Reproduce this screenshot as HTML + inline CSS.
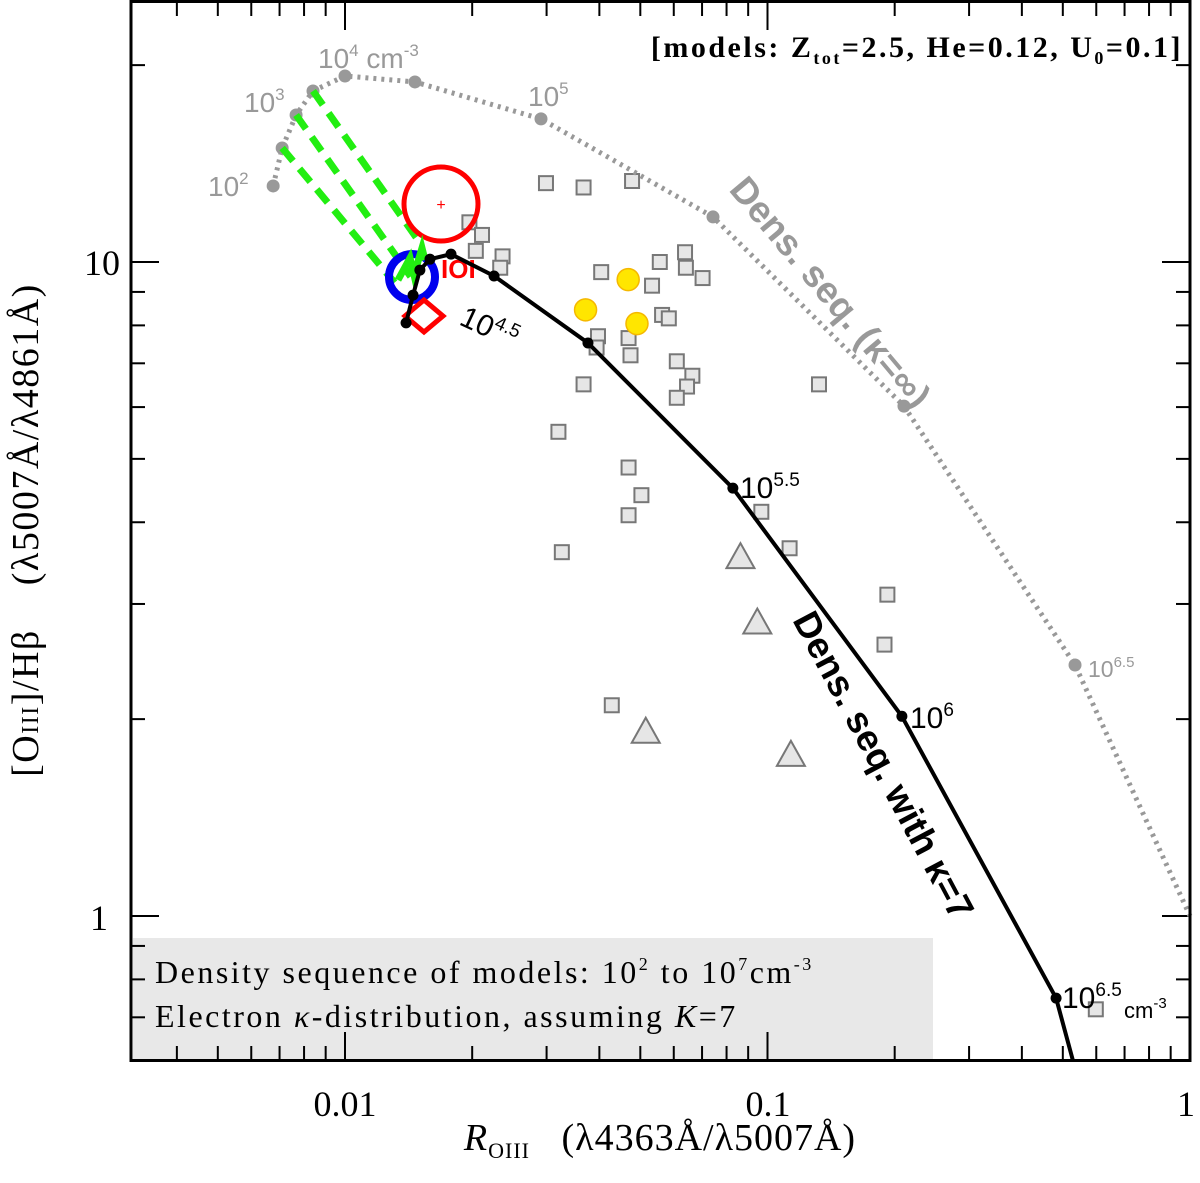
<!DOCTYPE html>
<html><head><meta charset="utf-8"><style>
html,body{margin:0;padding:0;background:#fff;}
svg{display:block;}
</style></head><body>
<svg id="chart" width="1200" height="1183" viewBox="0 0 1200 1183" xmlns="http://www.w3.org/2000/svg" font-family="Liberation Sans, sans-serif">
<rect x="133" y="938" width="800" height="121" fill="#e8e8e8"/>
<g id="ticks"></g>
<g id="marks"></g>
<rect x="131" y="1.5" width="1059" height="1059" fill="none" stroke="#000" stroke-width="3"/>
<g font-family="Liberation Serif, serif" font-size="36" text-anchor="middle">
<text x="345" y="1116">0.01</text>
<text x="768" y="1116">0.1</text>
<text x="1186" y="1116">1</text>
</g>
<g font-family="Liberation Serif, serif" font-size="36" text-anchor="end">
<text x="120" y="275">10</text>
<text x="108" y="930">1</text>
</g>
<text x="660" y="1150" text-anchor="middle" font-family="Liberation Serif, serif" font-size="38" letter-spacing="1"><tspan font-style="italic">R</tspan><tspan font-size="22" dy="8">OIII</tspan><tspan dy="-8" xml:space="preserve">   (λ4363Å/λ5007Å)</tspan></text>
<text transform="translate(38,530) rotate(-90)" text-anchor="middle" font-family="Liberation Serif, serif" font-size="38" letter-spacing="1.5" xml:space="preserve">[O<tspan font-size="24">III</tspan>]/Hβ    (λ5007Å/λ4861Å)</text>
<text x="1183" y="57" text-anchor="end" font-family="Liberation Serif, serif" font-size="30" font-weight="bold" letter-spacing="2.5">[models: Z<tspan font-size="18" dy="7">tot</tspan><tspan dy="-7">=2.5, He=0.12, U</tspan><tspan font-size="18" dy="7">0</tspan><tspan dy="-7">=0.1]</tspan></text>
<g font-family="Liberation Serif, serif" font-size="32" letter-spacing="2.5">
<text x="155" y="983">Density sequence of models: 10<tspan font-size="18" dy="-13">2</tspan><tspan dy="13"> to 10</tspan><tspan font-size="18" dy="-13">7</tspan><tspan dy="13">cm</tspan><tspan font-size="18" dy="-13">-3</tspan></text>
<text x="155" y="1027">Electron <tspan font-style="italic">κ</tspan>-distribution, assuming <tspan font-style="italic">K</tspan>=7</text>
</g>
<g fill="#999" font-size="28">
<text x="208" y="196">10<tspan font-size="17" dy="-12">2</tspan></text>
<text x="244" y="112">10<tspan font-size="17" dy="-12">3</tspan></text>
<text x="318" y="68">10<tspan font-size="17" dy="-12">4</tspan><tspan dy="12"> cm</tspan><tspan font-size="17" dy="-12">-3</tspan></text>
<text x="528" y="106">10<tspan font-size="17" dy="-12">5</tspan></text>
<text x="1088" y="677" font-size="23">10<tspan font-size="15" dy="-10">6.5</tspan></text>
<text transform="translate(728,190) rotate(50)" font-size="37" font-weight="bold">Dens. seq. (κ=∞)</text>
</g>
<g fill="#000" font-size="30">
<text transform="translate(458,324) rotate(25)">10<tspan font-size="19" dy="-12">4.5</tspan></text>
<text x="740" y="498">10<tspan font-size="19" dy="-12">5.5</tspan></text>
<text x="910" y="728">10<tspan font-size="19" dy="-12">6</tspan></text>
<text x="1062" y="1008">10<tspan font-size="19" dy="-12">6.5</tspan></text>
<text x="1124" y="1018" font-size="22">cm<tspan font-size="15" dy="-10">-3</tspan></text>
<text transform="translate(792,620) rotate(62)" font-size="37" font-weight="bold">Dens. seq. with κ=7</text>
</g>
</svg>
<script>
// ---- data ----
const kappaX = [0.01395,0.01449,0.01504,0.01589,0.01782,0.02253,0.03759,0.0828,0.208,0.482,0.528];
const kappaY = [8.07,8.90,9.72,10.1,10.28,9.52,7.52,4.51,2.02,0.749,0.602];
const kappaMarker = [1,1,1,1,1,1,1,1,1,1,0];
const infX = [0.00676,0.00710,0.00766,0.00840,0.01,0.01464,0.0291,0.0743,0.2104,0.5344,1.0];
const infY = [13.07,14.94,16.78,18.26,19.25,18.85,16.55,11.72,6.02,2.42,1.0];
const infMarker = [1,1,1,1,1,1,1,1,1,1,0];
const sqX = [0.0299,0.0367,0.0478,0.0197,0.0211,0.0204,0.0236,0.0233,0.0404,0.0556,0.0638,0.0702,0.0533,0.0641,0.0563,0.0584,0.0397,0.0469,0.0394,0.0474,0.0610,0.0664,0.0645,0.0610,0.1324,0.0367,0.0320,0.0469,0.0503,0.0469,0.0326,0.0967,0.1128,0.1922,0.1892,0.0428,0.5985];
const sqY = [13.2,13.0,13.3,11.5,11.0,10.4,10.2,9.8,9.65,10.0,10.35,9.45,9.2,9.8,8.3,8.2,7.7,7.65,7.4,7.2,7.05,6.7,6.45,6.2,6.5,6.5,5.5,4.85,4.4,4.1,3.6,4.15,3.65,3.1,2.6,2.1,0.72];
const triX = [0.0863,0.0946,0.0515,0.1136];
const triY = [3.55,2.82,1.92,1.77];
const dotX = [0.0468,0.0371,0.0491];
const dotY = [9.4,8.45,8.05];
const greenStartIdx = [1,2,3];
const greenEndX = [0.0131,0.0143,0.0152];
const greenEndY = [9.3,9.5,10.6];
// ---- axes ----
const X0=345, XD=422.5, Y0=262, YD=654;
function xs(v){return X0+XD*(Math.log10(v)+2);}
function ys(v){return Y0-YD*(Math.log10(v)-1);}
const NS='http://www.w3.org/2000/svg';
function mk(tag,attrs,parent){const e=document.createElementNS(NS,tag);for(const k in attrs)e.setAttribute(k,attrs[k]);parent.appendChild(e);return e;}
const T=document.getElementById('ticks'), M=document.getElementById('marks');
for(let d=-3;d<=0;d++)for(let m=1;m<10;m++){
 const v=m*Math.pow(10,d); if(v<0.0031||v>1.001)continue;
 const x=xs(v), L=(m===1)?28:14;
 const t1=mk('line',{x1:x,x2:x,y1:1060,y2:1060-L,stroke:'#000','stroke-width':2},T);
 
 
 const t2=mk('line',{x1:x,x2:x,y1:2,y2:2+L,stroke:'#000','stroke-width':2},T);
 
 
}
for(let d=-1;d<=1;d++)for(let m=1;m<10;m++){
 const v=m*Math.pow(10,d); const y=ys(v); if(y<2||y>1060)continue;
 const L=(m===1)?28:14;
 const t1=mk('line',{x1:131,x2:131+L,y1:y,y2:y,stroke:'#000','stroke-width':2},T);
 
 
 const t2=mk('line',{x1:1190,x2:1190-L,y1:y,y2:y,stroke:'#000','stroke-width':2},T);
 
 
}
for(let i=0;i<sqX.length;i++){
 const s=mk('rect',{x:xs(sqX[i])-7,y:ys(sqY[i])-7,width:14,height:14,fill:'#e6e6e6',stroke:'#777','stroke-width':2},M);
 
 
}
for(let i=0;i<triX.length;i++){
 const x=xs(triX[i]),y=ys(triY[i]);
 const t=mk('polygon',{points:`${x-14},${y+12} ${x+14},${y+12} ${x},${y-13}`,fill:'#e6e6e6',stroke:'#777','stroke-width':2},M);
 
 
}
for(let i=0;i<dotX.length;i++){
 const c=mk('circle',{cx:xs(dotX[i]),cy:ys(dotY[i]),r:11,fill:'#ffe600',stroke:'#f5b800','stroke-width':1.5},M);
 
 
}
const gp=mk('polyline',{points:infX.map((v,i)=>xs(v)+','+ys(infY[i])).join(' '),fill:'none',stroke:'#999','stroke-width':5,'stroke-dasharray':'3 5'},M);


for(let i=0;i<infX.length;i++){if(!infMarker[i])continue;
 const c=mk('circle',{cx:xs(infX[i]),cy:ys(infY[i]),r:6.5,fill:'#999'},M);
 
 
}
for(let i=0;i<greenStartIdx.length;i++){
 const k=greenStartIdx[i];
 const g=mk('line',{x1:xs(infX[k]),y1:ys(infY[k]),x2:xs(greenEndX[i]),y2:ys(greenEndY[i]),stroke:'#22ee11','stroke-width':7,'stroke-dasharray':'17 10'},M);
 
 
}
const rc=mk('circle',{cx:441,cy:204,r:37,fill:'none',stroke:'#f00','stroke-width':5},M);


const rp=mk('text',{x:441,y:210,fill:'#f00','font-size':16,'text-anchor':'middle'},M); rp.textContent='+';


const bc=mk('circle',{cx:412,cy:277,r:23,fill:'none',stroke:'#0000ee','stroke-width':8},M);


const rd=mk('polygon',{points:'424,300 443,316 424,332 405,316',fill:'none',stroke:'#f00','stroke-width':5},M);


const ro=mk('text',{x:441,y:278,fill:'#f00','font-size':26,'font-weight':'bold'},M); ro.textContent='IOI';


const gw=mk('polyline',{points:'398,280 410,258 414,275 422,248 425,260',fill:'none',stroke:'#22ee11','stroke-width':7},M);


const kp=mk('polyline',{points:kappaX.map((v,i)=>xs(v)+','+ys(kappaY[i])).join(' '),fill:'none',stroke:'#000','stroke-width':4},M);


for(let i=0;i<kappaX.length;i++){if(!kappaMarker[i])continue;
 const c=mk('circle',{cx:xs(kappaX[i]),cy:ys(kappaY[i]),r:5.5,fill:'#000'},M);
 
 
}
</script>
</body></html>
